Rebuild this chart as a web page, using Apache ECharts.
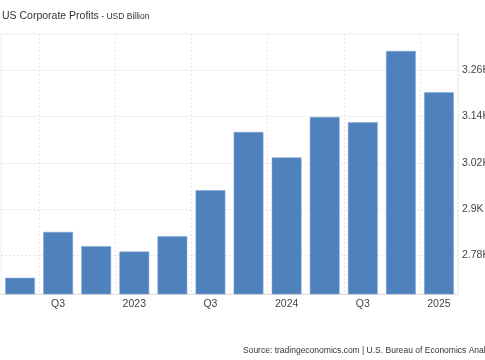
<!DOCTYPE html>
<html>
<head>
<meta charset="utf-8">
<script src="https://cdn.jsdelivr.net/npm/echarts@6/dist/echarts.min.js"></script>
<style>
html,body{margin:0;padding:0;background:#fff;}
#chart{width:485px;height:360px;}
</style>
</head>
<body>
<div id="chart"></div>
<script>
// Quarters Q2 2022 .. Q1 2025
const categories = ['Q2','Q3','Q4','2023','Q2','Q3','Q4','2024','Q2','Q3','Q4','2025'];
// USD Billion
const profits = [2722, 2841, 2804, 2790, 2830, 2949, 3100, 3034, 3139, 3125, 3310, 3203];
const yTicks = [2780, 2900, 3020, 3140, 3260];
const yMin = 2680;
const yMax = 3354;
const titleText = 'US Corporate Profits';
const unitText = ' - USD Billion';
const sourceText = 'Source: tradingeconomics.com | U.S. Bureau of Economics Analysis';

const chart = echarts.init(document.getElementById('chart'), null, {renderer: 'canvas'});
const FONT = 'Liberation Sans, Arial, sans-serif';
chart.setOption({
  animation: false,
  backgroundColor: '#fff',
  title: {
    left: 2, top: 11, padding: 0,
    text: '{a|' + titleText + '}{b|' + unitText + '}',
    textStyle: {
      fontWeight: 'normal',
      rich: {
        a: {fontFamily: FONT, fontSize: 10.5, color: '#333', fontWeight: 'normal'},
        b: {fontFamily: FONT, fontSize: 8.5, color: '#333', fontWeight: 'normal'}
      }
    }
  },
  graphic: [{
    type: 'text', left: 243, top: 346,
    style: {text: sourceText, fontFamily: FONT, fontSize: 8.5, fill: '#333'}
  }],
  grid: {
    left: 1, right: 27, top: 34, bottom: 66,
    outerBoundsMode: 'none',
    containLabel: false,
    show: true, borderColor: '#eeeeee', borderWidth: 1
  },
  xAxis: {
    type: 'category',
    data: categories,
    axisLine: {show: true, lineStyle: {color: '#e0e0e0'}},
    axisTick: {show: false},
    axisLabel: {
      interval: function (i) { return i % 2 === 1; },
      fontFamily: FONT, fontSize: 10.5, color: '#444', margin: 5
    },
    splitLine: {
      show: true,
      interval: function (i) { return i % 2 === 1; },
      lineStyle: {color: '#e6e6e6', type: [2, 2]}
    }
  },
  yAxis: {
    type: 'value',
    position: 'right',
    min: yMin, max: yMax,
    axisLine: {show: false},
    axisTick: {show: false, customValues: yTicks},
    axisLabel: {
      customValues: yTicks,
      formatter: function (v) { return (v / 1000) + 'K'; },
      fontFamily: FONT, fontSize: 10.5, color: '#444', margin: 4
    },
    splitLine: {show: true, lineStyle: {color: '#e6e6e6', type: [2, 2]}}
  },
  series: [{
    type: 'bar',
    data: profits,
    barCategoryGap: '22%',
    itemStyle: {color: '#4f81bd', borderColor: '#7ea3d0', borderWidth: 0.5}
  }]
});
</script>
</body>
</html>
